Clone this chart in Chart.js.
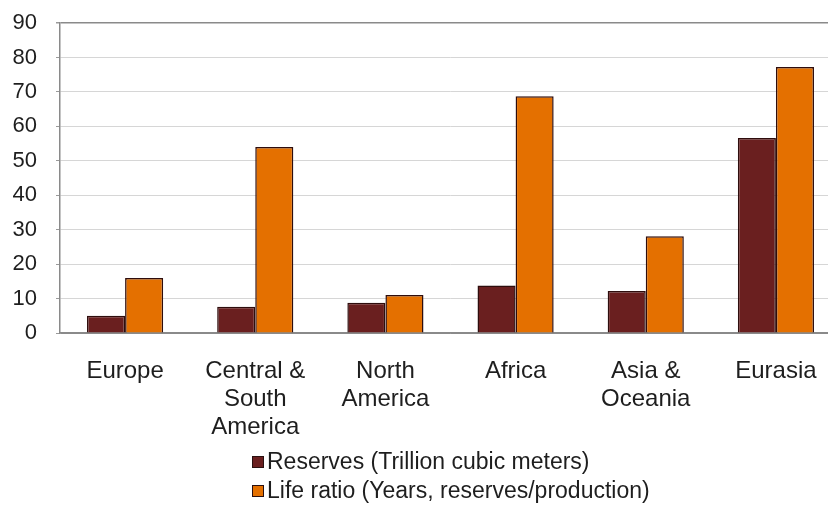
<!DOCTYPE html>
<html>
<head>
<meta charset="utf-8">
<script src="https://cdn.jsdelivr.net/npm/chart.js@4/dist/chart.umd.min.js"></script>
<style>
  html, body { margin: 0; padding: 0; background: #ffffff; overflow: hidden; width: 828px; height: 507px; }
  #wrap { position: absolute; left: 0; top: 0; width: 845px; height: 507px; }
  #legend { position: absolute; left: 252px; top: 447px; font-family: "Liberation Sans", Arial, sans-serif; font-size: 23px; color: #1e1e1e; }
  .item { display: flex; align-items: center; height: 29px; }
  .swatch { width: 10px; height: 10px; border: 1px solid #2a1010; margin-right: 3px; }
</style>
</head>
<body>
<div id="wrap"><canvas id="chart" width="845" height="507"></canvas></div>
<div id="legend"></div>
<script>
// Natural gas by region: proven reserves and reserves-to-production life
const regions = [
  ["Europe"],
  ["Central &", "South", "America"],
  ["North", "America"],
  ["Africa"],
  ["Asia &", "Oceania"],
  ["Eurasia"]
];
const reserves = [5, 7.6, 8.8, 13.8, 12.2, 56.6];
const lifeRatio = [16, 54, 11, 68.7, 28.1, 77.2];
const yTicks = [0, 10, 20, 30, 40, 50, 60, 70, 80, 90];
const seriesNames = ["Reserves (Trillion cubic meters)", "Life ratio (Years, reserves/production)"];
const seriesColors = ["#6a1f1f", "#e47000"];

const FONT = '"Liberation Sans", Arial, sans-serif';

const chart = new Chart(document.getElementById("chart"), {
  type: "bar",
  data: {
    labels: regions,
    datasets: [
      { label: seriesNames[0], data: reserves, backgroundColor: seriesColors[0], borderColor: "#2e0d0d", borderWidth: 1.5 },
      { label: seriesNames[1], data: lifeRatio, backgroundColor: seriesColors[1], borderColor: "#2e0d0d", borderWidth: 1.5 }
    ]
  },
  options: {
    responsive: false,
    animation: false,
    layout: { padding: { top: 23, right: 4, left: 0, bottom: 0 } },
    datasets: { bar: { categoryPercentage: 0.585, barPercentage: 1.0 } },
    plugins: { legend: { display: false }, tooltip: { enabled: false } },
    scales: {
      x: {
        grid: { display: false },
        border: { display: true, color: "#8a8a8a", width: 1.5 },
        ticks: {
          color: "#1e1e1e",
          padding: 16,
          maxRotation: 0,
          autoSkip: false,
          font: { family: FONT, size: 24, lineHeight: 1.17 }
        },
        afterFit: (scale) => {
          scale.height = 174;
          scale.paddingLeft = 0;
          scale.paddingRight = 0;
        }
      },
      y: {
        min: 0,
        max: 90,
        afterBuildTicks: (scale) => { scale.ticks = yTicks.map(v => ({ value: v })); },
        grid: {
          color: (ctx) => (ctx.tick && (ctx.tick.value === 90 || ctx.tick.value === 0)) ? "#8a8a8a" : "#d6d6d6",
          lineWidth: (ctx) => (ctx.tick && ctx.tick.value === 90) ? 1.5 : 1,
          drawTicks: true,
          tickLength: 4,
          tickColor: "#9a9a9a"
        },
        border: { display: true, color: "#8a8a8a", width: 1.5 },
        ticks: {
          color: "#1e1e1e",
          padding: 19,
          font: { family: FONT, size: 22 }
        },
        afterFit: (scale) => {
          scale.width = 60;
          scale.paddingTop = 0;
          scale.paddingBottom = 0;
        }
      }
    }
  }
});

// Vertical legend below the plot, one series per row
const legend = document.getElementById("legend");
chart.data.datasets.forEach((ds) => {
  const row = document.createElement("div");
  row.className = "item";
  const sw = document.createElement("span");
  sw.className = "swatch";
  sw.style.background = ds.backgroundColor;
  const txt = document.createElement("span");
  txt.textContent = ds.label;
  row.appendChild(sw);
  row.appendChild(txt);
  legend.appendChild(row);
});
</script>
</body>
</html>
